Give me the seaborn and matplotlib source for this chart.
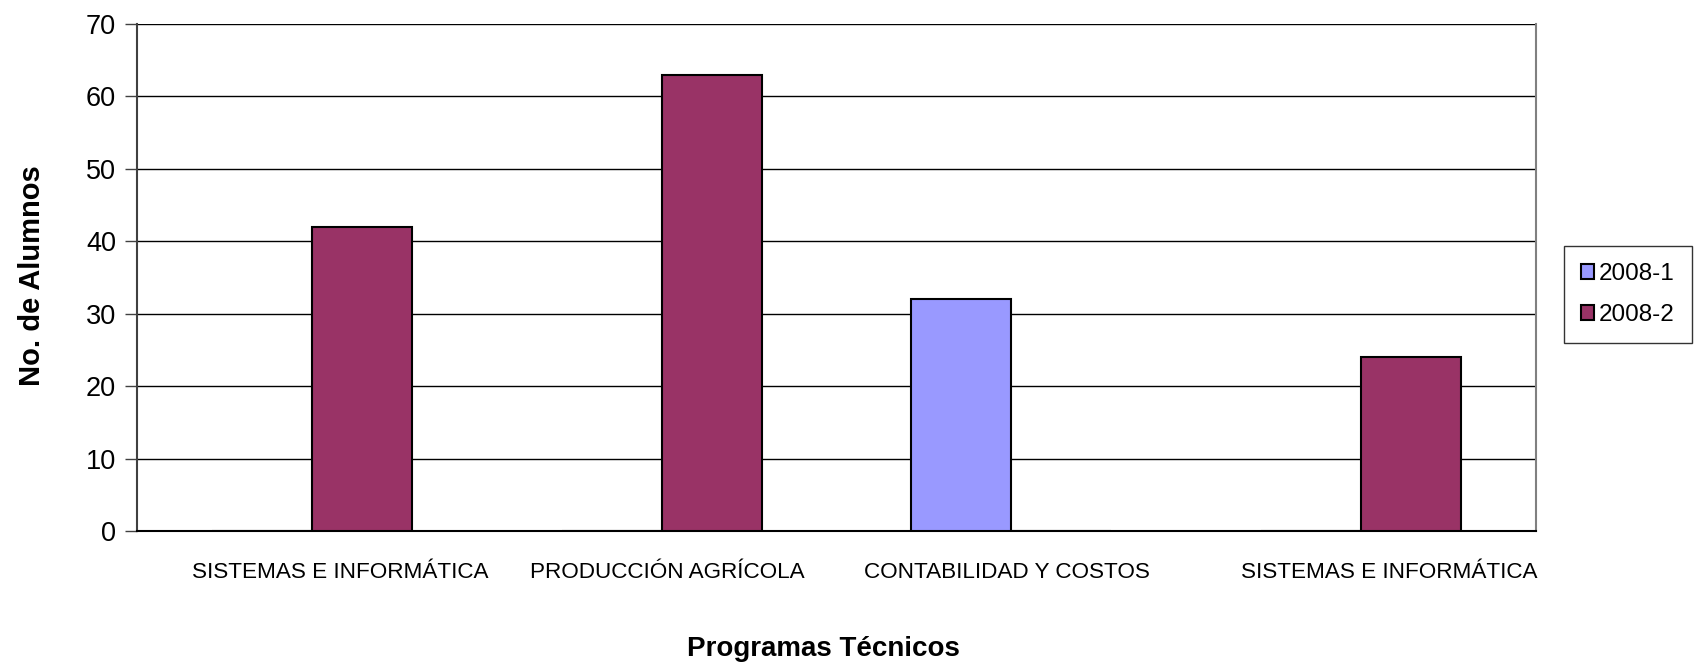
import matplotlib
matplotlib.use('Agg')
import matplotlib.pyplot as plt
import matplotlib.transforms as mtransforms
import seaborn as sns
import numpy as np
import pandas as pd
from matplotlib.patches import Patch

# Data
programas = ["SISTEMAS E INFORMÁTICA", "PRODUCCIÓN AGRÍCOLA",
             "CONTABILIDAD Y COSTOS", "SISTEMAS E INFORMÁTICA"]
series = ["2008-1", "2008-2"]
alumnos_2008_1 = [0, 0, 32, 0]
alumnos_2008_2 = [42, 63, 0, 24]
colores = {"2008-1": "#9999FF", "2008-2": "#993366"}

# Long table; positions used as ids because two categories share a name
rows = []
for i in range(len(programas)):
    rows.append({"pos": str(i), "serie": "2008-1", "valor": alumnos_2008_1[i]})
    rows.append({"pos": str(i), "serie": "2008-2", "valor": alumnos_2008_2[i]})
df = pd.DataFrame(rows)

sns.set_style("white")
plt.rcParams['font.family'] = ['Liberation Sans', 'DejaVu Sans']
for key in ['text.color', 'axes.labelcolor', 'xtick.color', 'ytick.color']:
    plt.rcParams[key] = 'black'

fig = plt.figure(figsize=(16.95, 6.63), dpi=100)
ax = fig.add_axes([0.0808, 0.1991, 0.9062 - 0.0808, 0.9638 - 0.1991])

sns.barplot(data=df, x="pos", y="valor", hue="serie",
            order=[str(i) for i in range(len(programas))], hue_order=series,
            palette=colores, saturation=1, width=4 / 7, edgecolor="black",
            linewidth=1.5, errorbar=None, legend=False, ax=ax, zorder=3)

ax.set_xlim(-0.5, len(programas) - 0.5)
ax.set_ylim(0, 70)
ax.set_yticks(np.arange(0, 71, 10))
ax.yaxis.grid(True, color="black", linewidth=1)
ax.set_axisbelow(True)

ax.set_xticks(range(len(programas)))
ax.set_xticklabels(programas, fontsize=16.2)
ax.set_xticks(np.arange(-0.5, len(programas), 1), minor=True)
ax.tick_params(axis="x", which="major", length=0, pad=22)
ax.tick_params(axis="x", which="minor", direction="in", length=7,
               width=1, color="#404040")
ax.tick_params(axis="y", which="major", direction="out", length=9,
               width=1, color="#404040", labelsize=19.5, pad=6, left=True)

# Excel placed the outer labels a bit to the right of the category centre
shifts_px = [28, 6, -4, 28]
for lbl, dx in zip(ax.get_xticklabels(), shifts_px):
    lbl.set_transform(lbl.get_transform() +
                      mtransforms.ScaledTranslation(dx / 100, 0, fig.dpi_scale_trans))

ax.spines["top"].set_visible(False)
ax.spines["right"].set_color("#808080")
ax.spines["right"].set_linewidth(1.5)
ax.spines["left"].set_color("#404040")
ax.spines["left"].set_linewidth(1.5)
ax.spines["bottom"].set_color("black")
ax.spines["bottom"].set_linewidth(1.5)

ax.set_xlabel("")
ax.set_ylabel("")
fig.text(0.486, 0.021, "Programas Técnicos", fontsize=20, fontweight="bold",
         ha="center", va="center")
fig.text(0.019, 0.584, "No. de Alumnos", fontsize=21, fontweight="bold",
         ha="center", va="center", rotation=90)

handles = [Patch(facecolor=colores[s], edgecolor="black", linewidth=1.5, label=s)
           for s in series]
leg = fig.legend(handles=handles, loc="center", bbox_to_anchor=(0.9602, 0.5558),
                 fontsize=17.5, frameon=True, fancybox=False, edgecolor="black",
                 handlelength=0.55, handleheight=0.55, handletextpad=0.2,
                 labelspacing=0.8, borderpad=0.7)
leg.get_frame().set_linewidth(1)

plt.savefig("out.png", dpi=100)
plt.close()
